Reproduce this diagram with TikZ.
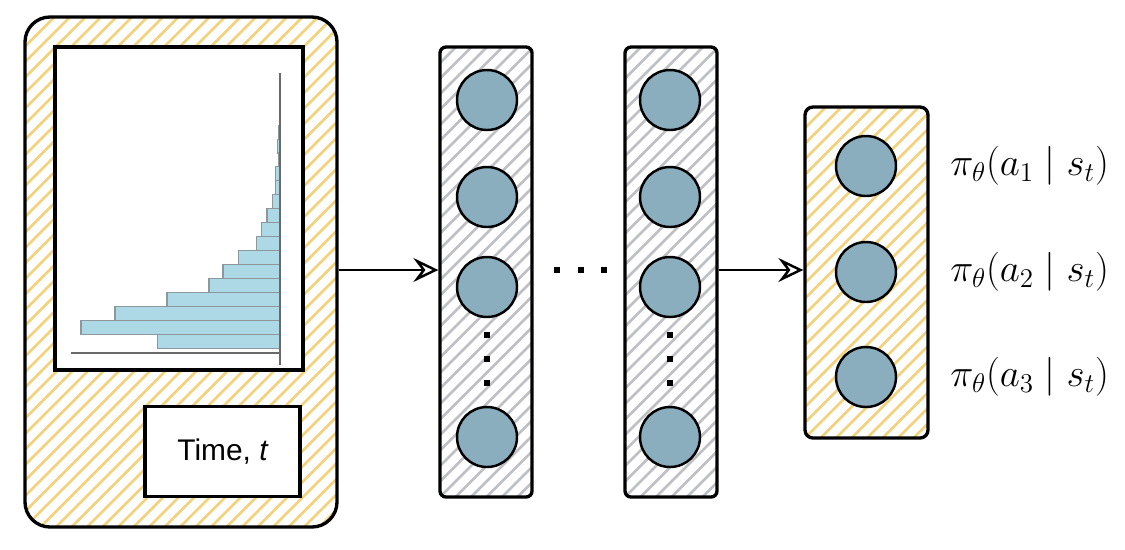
\documentclass[tikz,border=0pt]{standalone}
\usepackage{fontspec}
\usepackage{graphicx}
\newfontfamily\sansA{Liberation Sans}
\usetikzlibrary{arrows.meta,calc}
\definecolor{hatchyel}{HTML}{F2D27C}
\definecolor{hatchgray}{HTML}{BFC0C4}
\definecolor{neuron}{HTML}{8AAEBE}
\definecolor{barblue}{HTML}{ADD8E6}
\definecolor{bargray}{HTML}{8E979C}
\definecolor{axisgray}{HTML}{6A6A6A}
\begin{document}
\begin{tikzpicture}[x=0.02cm,y=-0.02cm,
  hatch/.style={path picture={
    \foreach \i in {-40,...,25}{
      \draw[#1,line width=1.5pt] ($(path picture bounding box.south west)+(\i*0.31cm,0)$) -- ++(12cm,12cm);}}},
  box/.style={draw, line width=1.9pt, inner sep=0pt},
  neuronnode/.style={circle, draw, line width=1.4pt, fill=neuron, minimum size=60*0.02cm, inner sep=0pt},
  sqdot/.style={fill=black, minimum size=6*0.02cm, inner sep=0pt},
  bar/.style={fill=barblue, draw=bargray, line width=0.6pt},
  axisline/.style={draw=axisgray, line width=0.7pt},
  arr/.style={line width=1.4pt, -{Stealth[open, length=5mm, width=4.8mm, inset=1.8mm, line width=1.4pt]}},
  lbl/.style={anchor=west, inner sep=0pt, font=\fontsize{20.74}{25}\selectfont}
]
\useasboundingbox (0,0) rectangle (1125,549);

% input panel
\node[box, rounded corners=0.5cm, hatch=hatchyel, minimum width=312*0.02cm, minimum height=510*0.02cm] (inp) at (181,272) {};
\node[box, fill=white, minimum width=248*0.02cm, minimum height=323*0.02cm] (plot) at (179,208.5) {};
\node[box, fill=white, minimum width=155*0.02cm, minimum height=90*0.02cm, font=\sansA\fontsize{17}{20}\selectfont] (time) at (222.5,451.5) {Time, {\itshape t}};

% histogram
\foreach \k/\l in {0/157.7,1/81,2/115,3/167,4/209,5/223,6/238.3,7/256.7,8/261.3,9/267,10/272.3,11/275.3,12/275.3,13/278.7,14/277.7,15/278.7}{
  \draw[bar] (\l,{348.3-\k*13.95}) rectangle (280,{348.3-(\k+1)*13.95});
}
\draw[axisline] (280,73) -- (280,365);
\draw[axisline] (71,353) -- (280,353);

% hidden layers
\node[box, rounded corners=0.12cm, hatch=hatchgray, minimum width=92*0.02cm, minimum height=450*0.02cm] (L1) at (486,272) {};
\node[box, rounded corners=0.12cm, hatch=hatchgray, minimum width=92*0.02cm, minimum height=450*0.02cm] (L2) at (671,272) {};
\foreach \y/\n in {100/1,197/2,287/3,437/4}{
  \node[neuronnode] (a\n) at (487,\y) {};
  \node[neuronnode] (b\n) at (670,\y) {};
}
\foreach \y/\n in {335/1,359/2,383/3}{
  \node[sqdot] (va\n) at (487,\y) {};
  \node[sqdot] (vb\n) at (670,\y) {};
}
\foreach \x/\n in {557/1,581/2,604/3}{
  \node[sqdot] (h\n) at (\x,270) {};
}

% output layer
\node[box, rounded corners=0.16cm, hatch=hatchyel, minimum width=123*0.02cm, minimum height=331*0.02cm] (out) at (866.5,272.5) {};
\foreach \y/\n in {166/1,272/2,377/3}{
  \node[neuronnode] (o\n) at (866,\y) {};
  \node[lbl] (p\n) at (950,\y) {\scalebox{1.07}{$\pi_\theta(a_\n \mid s_t)$}};
}

% connectors
\draw[arr] (inp.east |- 0,270) -- (L1.west |- 0,270);
\draw[arr] (L2.east |- 0,270) -- (out.west |- 0,270);
\end{tikzpicture}
\end{document}
